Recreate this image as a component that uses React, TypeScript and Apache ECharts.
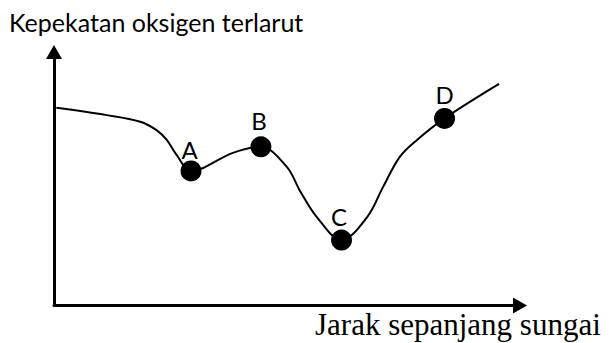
import React, { useEffect, useRef } from "react";
import * as echarts from "echarts";

// Curve (data units: x 0..100 along river, y 0..100 oxygen)
const curveX = [0.5, 11.3, 18.5, 22.0, 24.2, 26.3, 29.4, 38.4, 44.4, 50.0, 52.8, 56.4, 61.7, 67.2, 70.6, 74.2, 77.9, 83.8, 95.5];
const curveY = [78.0, 75.1, 72.5, 69.2, 65.3, 59.4, 53.1, 60.2, 62.6, 54.6, 45.2, 34.9, 25.8, 34.9, 46.7, 58.6, 65.3, 73.8, 87.4];

// Marked points
const pointNames = ["A", "B", "C", "D"];
const pointX = [29.4, 44.4, 61.7, 83.8];
const pointY = [53.1, 62.6, 25.8, 73.8];

const yTitle = "Kepekatan oksigen terlarut";
const xTitle = "Jarak sepanjang sungai";

// label style offsets (px) per point
const labelOffsets = [[-1.5, 4], [-2, -1], [-2.5, 2], [0, 2]];

export default function App() {
  const ref = useRef<HTMLDivElement>(null);
  useEffect(() => {
    if (!ref.current) return;
    const chart = echarts.init(ref.current, undefined, { renderer: "svg" });
    const axisLine = {
      show: true,
      symbol: ["none", "triangle"],
      symbolSize: [16, 14],
      lineStyle: { color: "#000", width: 3 },
    };
    chart.setOption({
      animation: false,
      backgroundColor: "#fff",
      title: [
        {
          text: yTitle,
          left: 9,
          top: 8,
          padding: 0,
          textStyle: { fontFamily: "Lato", fontSize: 25, fontWeight: "normal", color: "#000", lineHeight: 28 },
        },
        {
          text: xTitle,
          left: 315,
          top: 308,
          padding: 0,
          textStyle: { fontFamily: "Liberation Serif", fontSize: 31, fontWeight: "normal", color: "#000", lineHeight: 32 },
        },
      ],
      grid: { left: 54, right: 92, top: 52, bottom: 37.5 },
      xAxis: {
        type: "value",
        min: 0,
        max: 100,
        axisLine,
        axisTick: { show: false },
        axisLabel: { show: false },
        splitLine: { show: false },
      },
      yAxis: {
        type: "value",
        min: 0,
        max: 100,
        axisLine,
        axisTick: { show: false },
        axisLabel: { show: false },
        splitLine: { show: false },
      },
      series: [
        {
          type: "line",
          data: curveX.map((x, i) => [x, curveY[i]]),
          smooth: 0.35,
          showSymbol: false,
          lineStyle: { color: "#000", width: 2 },
          silent: true,
          z: 2,
        },
        {
          type: "scatter",
          symbol: "circle",
          symbolSize: 21,
          itemStyle: { color: "#000", opacity: 1 },
          z: 3,
          data: pointX.map((x, i) => ({
            value: [x, pointY[i]],
            name: pointNames[i],
            label: { offset: labelOffsets[i] },
          })),
          label: {
            show: true,
            position: "top",
            distance: 2,
            formatter: (p: any) => p.name,
            fontFamily: "Lato",
            fontSize: 24,
            lineHeight: 26,
            color: "#000",
          },
        },
      ],
    });
    return () => chart.dispose();
  }, []);
  return <div ref={ref} style={{ position: "fixed", left: 0, top: 0, width: 612, height: 343 }} />;
}
